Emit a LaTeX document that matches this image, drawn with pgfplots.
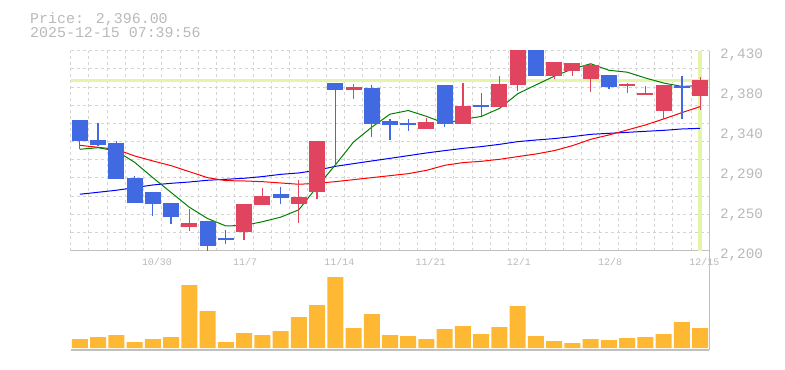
\documentclass[border=0pt]{standalone}
\usepackage{pgfplots}
\pgfplotsset{compat=1.18}
\usepackage{pgfplotstable}
\usepackage{fontspec}
\newfontfamily\chartfont{Liberation Mono}
\definecolor{txtgray}{RGB}{185,185,185}
\definecolor{gridgray}{RGB}{212,212,212}
\definecolor{axgray}{RGB}{192,192,192}
\definecolor{upred}{RGB}{224,68,94}
\definecolor{downblue}{RGB}{65,105,225}
\definecolor{volorange}{RGB}{255,184,51}
\definecolor{hilite}{RGB}{228,245,170}
\definecolor{magreen}{RGB}{0,128,0}

\pgfplotstableread{
x o h l c
6 2227 2248 2223 2232
9 2221 2254 2212 2254
10 2253 2272 2253 2263
12 2254 2281 2232 2262
13 2268 2326 2260 2326
15 2385 2392 2375 2388
19 2340 2353 2340 2348
21 2346 2393 2346 2366
23 2365 2401 2365 2392
24 2391 2440 2384 2440
26 2401 2417 2397 2417
27 2407 2416 2401 2416
28 2397 2416 2382 2414
30 2389 2393 2381 2392
31 2379 2389 2379 2381
32 2361 2391 2352 2391
34 2378 2400 2362 2396
}\upcandles

\pgfplotstableread{
x o h l c
0 2350 2350 2317 2326
1 2327 2347 2320 2321
2 2324 2326 2283 2283
3 2284 2286 2255 2255
4 2267 2267 2240 2254
5 2255 2255 2231 2239
7 2234 2234 2200 2205
8 2215 2224 2208 2212
11 2265 2273 2254 2261
14 2393 2393 2299 2385
16 2387 2391 2331 2346
17 2349 2352 2327 2344
18 2347 2352 2338 2344
20 2391 2391 2342 2346
22 2368 2381 2355 2365
25 2440 2440 2401 2401
29 2402 2402 2386 2388
33 2389.5 2401 2351 2387.5
}\downcandles

\pgfplotstableread{
x g r b
0 2316.6 2321.2 2264.9
1 2318.5 2318.9 2267.2
2 2314.7 2316.6 2269.5
3 2301.7 2309.0 2272.5
4 2284.0 2303.2 2275.6
5 2267.0 2297.8 2277.5
6 2250.0 2290.9 2279.0
7 2237.0 2284.0 2281.0
8 2228.5 2280.6 2282.1
9 2229.0 2280.2 2283.3
10 2233.3 2279.4 2285.2
11 2238.5 2277.9 2287.8
12 2247.0 2276.4 2289.4
13 2273.5 2277.5 2292.5
14 2298.5 2279.4 2297.0
15 2325.0 2281.7 2300.1
16 2342.0 2284.0 2303.2
17 2357.0 2286.3 2306.2
18 2361.2 2288.6 2309.3
19 2354.5 2292.4 2312.4
20 2346.5 2298.2 2315.1
21 2351.0 2301.3 2317.7
22 2354.4 2302.8 2319.7
23 2363.6 2305.1 2322.3
24 2380.5 2308.2 2325.4
25 2390.7 2311.2 2327.3
26 2400.6 2315.1 2328.9
27 2409.0 2320.8 2331.2
28 2415.0 2328.1 2333.8
29 2407.5 2333.1 2335.0
30 2405.3 2338.8 2336.1
31 2398.6 2344.6 2337.3
32 2392.8 2351.5 2338.4
33 2388.9 2358.8 2340.0
34 2390.0 2365.7 2340.7
}\mas

\pgfplotstableread{
x v
0 9
1 11
2 13
3 6
4 9
5 11
6 63
7 37
8 6
9 15
10 13
11 17
12 31
13 43
14 71
15 20
16 34
17 13
18 12
19 9
20 19
21 22
22 14
23 21
24 42
25 12
26 7
27 5
28 9
29 8
30 10
31 11
32 14
33 26
34 20
}\vols

\pgfplotsset{
  candle/.style 2 args={only marks, mark=*, mark size=0pt,
    mark options={draw=none, fill=none},
    error bars/.cd, y dir=both, y explicit, error mark=none,
    error bar style={draw=#1, line width=#2}},
}

\begin{document}
\begin{tikzpicture}
\useasboundingbox (0,0) rectangle (785bp,370bp);

\node[anchor=base west, inner sep=0pt, text=txtgray, font=\chartfont\fontsize{15}{17}\selectfont] at (30bp,346.7bp) {Price: 2,396.00};
\node[anchor=base west, inner sep=0pt, text=txtgray, font=\chartfont\fontsize{15}{17}\selectfont] at (30bp,332.3bp) {2025-12-15 07:39:56};

% price panel
\begin{axis}[
  at={(70.7bp,119.3bp)}, anchor=south west,
  scale only axis, width=638.6bp, height=200bp,
  xmin=-0.5, xmax=34.5, ymin=2200, ymax=2430,
  axis x line*=bottom, axis y line*=right,
  axis line style={-, draw=axgray, line width=1.5bp},
  major tick length=0pt, minor tick length=0pt,
  xtick={4,9,14,19,24,29,34},
  xticklabels={10/30,11/7,11/14,11/21,12/1,12/8,12/15},
  xticklabel style={anchor=base west, inner sep=0pt, xshift=-11bp, yshift=-15.3bp, text=txtgray, font=\chartfont\fontsize{10}{12}\selectfont},
  ytick={2200,2246,2292,2338,2384,2430},
  yticklabels={2{,}200,2{,}250,2{,}290,2{,}340,2{,}380,2{,}430},
  yticklabel style={anchor=base west, inner sep=0pt, xshift=10.5bp, yshift=-7.6bp, text=txtgray, font=\chartfont\fontsize{14.4}{16}\selectfont},
  minor xtick={-0.5,0.5,...,34.5},
  minor ytick={2200,2220.909,2241.818,2262.727,2283.636,2304.545,2325.455,2346.364,2367.273,2388.182,2409.091,2430},
  xmajorgrids=false, ymajorgrids=false,
  xminorgrids=true, yminorgrids=true,
  minor grid style={draw=gridgray, line width=1bp, dash pattern=on 3bp off 3bp},
  clip=true,
]
\addplot[draw=hilite, line width=3.4bp] coordinates {(-0.5,2396) (34.5,2396)};
\addplot[draw=hilite, line width=3.4bp] coordinates {(34,2200) (34,2430)};

\addplot[draw=blue, line width=1bp] table[x=x,y=b] {\mas};
\addplot[draw=red, line width=1bp] table[x=x,y=r] {\mas};
\addplot[draw=magreen, line width=1bp] table[x=x,y=g] {\mas};

% wicks
\addplot[candle={upred}{1.3bp}]
  table[x=x, y expr={(\thisrow{h}+\thisrow{l})/2}, y error expr={(\thisrow{h}-\thisrow{l})/2}] {\upcandles};
\addplot[candle={downblue}{1.3bp}]
  table[x=x, y expr={(\thisrow{h}+\thisrow{l})/2}, y error expr={(\thisrow{h}-\thisrow{l})/2}] {\downcandles};
% bodies
\addplot[candle={upred}{16bp}]
  table[x=x, y expr={(\thisrow{o}+\thisrow{c})/2}, y error expr={abs(\thisrow{c}-\thisrow{o})/2}] {\upcandles};
\addplot[candle={downblue}{16bp}]
  table[x=x, y expr={(\thisrow{o}+\thisrow{c})/2}, y error expr={abs(\thisrow{c}-\thisrow{o})/2}] {\downcandles};
\end{axis}

% volume panel
\begin{axis}[
  at={(70.7bp,20bp)}, anchor=south west,
  scale only axis, width=638.6bp, height=99.3bp,
  xmin=-0.5, xmax=34.5, ymin=-2, ymax=97.3,
  axis x line*=bottom, axis y line*=right,
  axis line style={-, draw=axgray, line width=1.5bp},
  major tick length=0pt, minor tick length=0pt,
  xtick=\empty, ytick=\empty,
  minor xtick={-0.5,0.5,...,34.5},
  xminorgrids=true,
  minor grid style={draw=gridgray, line width=1bp, dash pattern=on 3bp off 3bp},
]
\addplot[ybar, bar width=16bp, fill=volorange, draw=none] table[x=x,y=v] {\vols};
\end{axis}
\end{tikzpicture}
\end{document}
